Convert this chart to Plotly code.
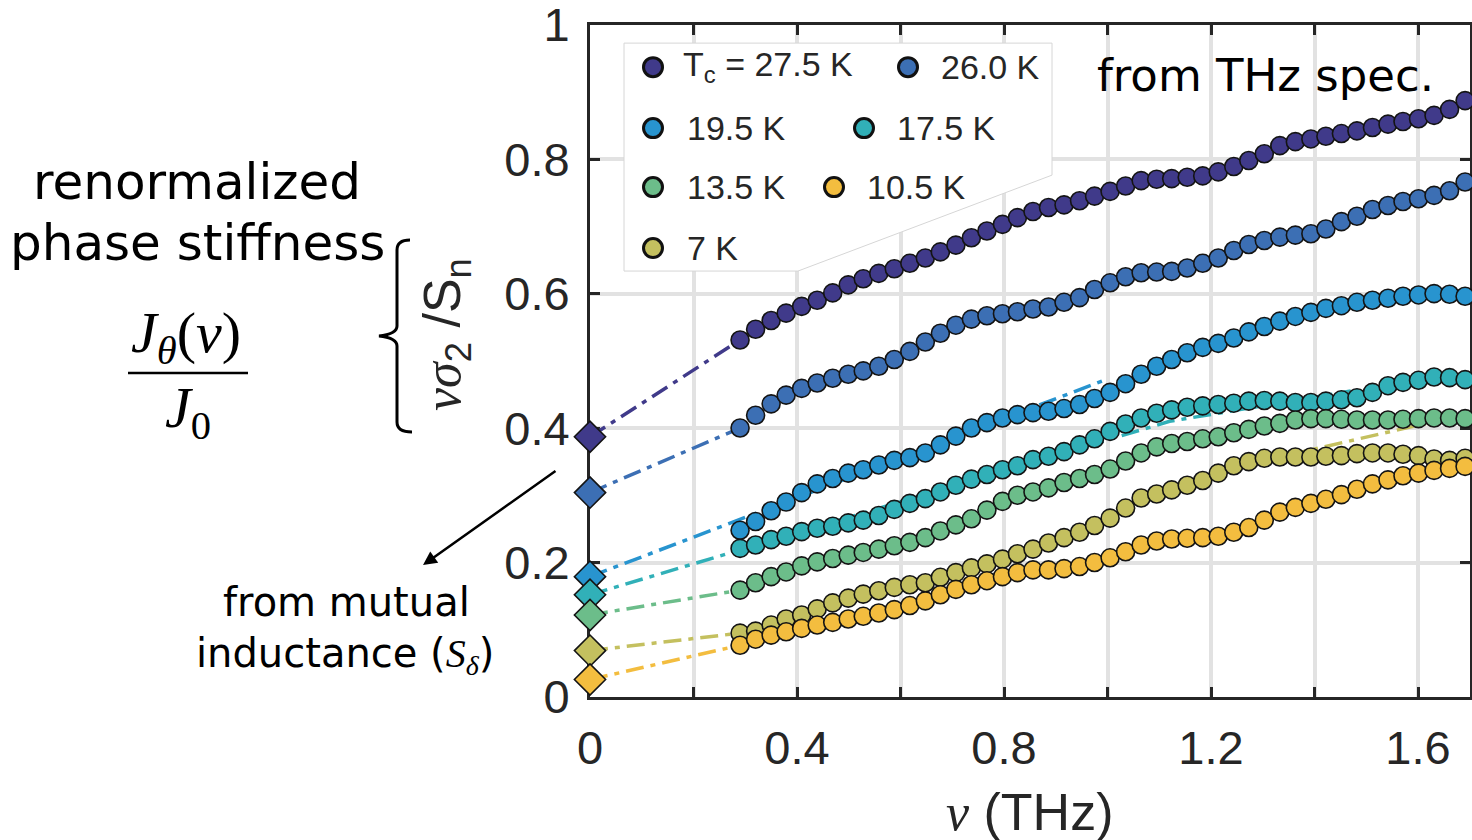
import plotly.graph_objects as go

W, H = 1472, 840

# ---- data -------------------------------------------------------------
freq_thz = [0.290, 0.320, 0.350, 0.379, 0.409, 0.439, 0.469, 0.499, 0.528, 0.558,
            0.588, 0.618, 0.648, 0.677, 0.707, 0.737, 0.767, 0.797, 0.826, 0.856,
            0.886, 0.916, 0.946, 0.975, 1.005, 1.035, 1.065, 1.095, 1.124, 1.154,
            1.184, 1.214, 1.244, 1.273, 1.303, 1.333, 1.363, 1.393, 1.422, 1.452,
            1.482, 1.512, 1.542, 1.571, 1.601, 1.631, 1.661, 1.691]

tc_27_5 = [0.531, 0.547, 0.560, 0.571, 0.581, 0.590, 0.601, 0.613, 0.622, 0.630,
           0.637, 0.645, 0.653, 0.662, 0.672, 0.683, 0.693, 0.703, 0.713, 0.722,
           0.728, 0.732, 0.738, 0.745, 0.752, 0.760, 0.768, 0.770, 0.771, 0.773,
           0.775, 0.781, 0.789, 0.798, 0.808, 0.820, 0.826, 0.830, 0.834, 0.838,
           0.842, 0.847, 0.852, 0.856, 0.860, 0.865, 0.874, 0.887]

tc_26_0 = [0.400, 0.419, 0.436, 0.449, 0.459, 0.467, 0.474, 0.480, 0.485, 0.492,
           0.502, 0.514, 0.528, 0.541, 0.553, 0.562, 0.567, 0.570, 0.573, 0.577,
           0.580, 0.587, 0.594, 0.606, 0.616, 0.625, 0.631, 0.632, 0.633, 0.638,
           0.645, 0.653, 0.664, 0.673, 0.679, 0.684, 0.687, 0.689, 0.696, 0.707,
           0.715, 0.725, 0.731, 0.737, 0.741, 0.746, 0.753, 0.766]

tc_19_5 = [0.248, 0.261, 0.277, 0.290, 0.304, 0.317, 0.325, 0.333, 0.338, 0.345,
           0.352, 0.356, 0.363, 0.375, 0.388, 0.400, 0.408, 0.415, 0.420, 0.423,
           0.425, 0.429, 0.435, 0.444, 0.453, 0.466, 0.480, 0.492, 0.502, 0.512,
           0.520, 0.526, 0.534, 0.543, 0.551, 0.559, 0.566, 0.572, 0.578, 0.582,
           0.587, 0.590, 0.593, 0.596, 0.598, 0.600, 0.599, 0.596]

tc_17_5 = [0.221, 0.226, 0.234, 0.239, 0.246, 0.251, 0.254, 0.259, 0.263, 0.270,
           0.279, 0.288, 0.295, 0.305, 0.315, 0.324, 0.331, 0.338, 0.344, 0.353,
           0.358, 0.365, 0.375, 0.384, 0.395, 0.406, 0.415, 0.422, 0.427, 0.431,
           0.433, 0.435, 0.437, 0.440, 0.441, 0.440, 0.438, 0.438, 0.440, 0.442,
           0.445, 0.453, 0.463, 0.468, 0.471, 0.476, 0.475, 0.472]

tc_13_5 = [0.159, 0.170, 0.179, 0.186, 0.195, 0.201, 0.206, 0.211, 0.215, 0.220,
           0.225, 0.230, 0.237, 0.247, 0.256, 0.265, 0.278, 0.291, 0.300, 0.305,
           0.311, 0.319, 0.325, 0.331, 0.339, 0.351, 0.363, 0.372, 0.377, 0.380,
           0.384, 0.387, 0.393, 0.398, 0.403, 0.407, 0.412, 0.414, 0.414, 0.413,
           0.412, 0.412, 0.412, 0.413, 0.414, 0.415, 0.415, 0.414]

tc_7_0 = [0.095, 0.098, 0.107, 0.116, 0.122, 0.131, 0.140, 0.147, 0.153, 0.158,
          0.163, 0.167, 0.170, 0.178, 0.185, 0.192, 0.198, 0.205, 0.213, 0.220,
          0.229, 0.237, 0.245, 0.255, 0.266, 0.281, 0.296, 0.302, 0.308, 0.315,
          0.322, 0.333, 0.344, 0.350, 0.355, 0.357, 0.357, 0.357, 0.358, 0.359,
          0.362, 0.363, 0.363, 0.361, 0.359, 0.354, 0.352, 0.355]

tc_10_5 = [0.077, 0.086, 0.092, 0.097, 0.102, 0.107, 0.111, 0.116, 0.120, 0.125,
           0.130, 0.136, 0.143, 0.152, 0.160, 0.167, 0.173, 0.179, 0.185, 0.189,
           0.189, 0.191, 0.194, 0.200, 0.207, 0.216, 0.226, 0.232, 0.235, 0.236,
           0.237, 0.239, 0.245, 0.252, 0.263, 0.275, 0.282, 0.288, 0.294, 0.301,
           0.309, 0.317, 0.323, 0.329, 0.333, 0.337, 0.340, 0.343]

# zero-frequency stiffness from mutual inductance, one per sample
mutual_ind = {"27.5": 0.387, "26.0": 0.304, "19.5": 0.179, "17.5": 0.152,
              "13.5": 0.122, "7": 0.069, "10.5": 0.026}

# dash-dot guides from the mutual-inductance point into the THz data
guide_x = {"27.5": [0.0, 0.290], "26.0": [0.0, 0.290], "19.5": [0.0, 1.00],
           "17.5": [0.0, 1.12, 1.47], "13.5": [0.0, 0.290],
           "7": [0.0, 0.290, None, 1.35, 1.69], "10.5": [0.0, 0.290]}
guide_y = {"27.5": [0.387, 0.531], "26.0": [0.304, 0.400], "19.5": [0.179, 0.473],
           "17.5": [0.152, 0.410, 0.455], "13.5": [0.122, 0.159],
           "7": [0.069, 0.095, None, 0.360, 0.420], "10.5": [0.026, 0.077]}

samples = ["27.5", "26.0", "19.5", "17.5", "13.5", "7", "10.5"]
series = {"27.5": tc_27_5, "26.0": tc_26_0, "19.5": tc_19_5, "17.5": tc_17_5,
          "13.5": tc_13_5, "7": tc_7_0, "10.5": tc_10_5}
colors = {"27.5": "#403a8a", "26.0": "#3c6fb4", "19.5": "#2894cf",
          "17.5": "#31b0b8", "13.5": "#6cbd8a", "7": "#c4c05f",
          "10.5": "#f3bd3f"}
legend_labels = {"27.5": "T<sub>c</sub> = 27.5 K", "26.0": "26.0 K",
                 "19.5": "19.5 K", "17.5": "17.5 K", "13.5": "13.5 K",
                 "10.5": "10.5 K", "7": "7 K"}

x_ticks = [0, 0.2, 0.4, 0.6, 0.8, 1.0, 1.2, 1.4, 1.6]
x_ticktext = ["0", "", "0.4", "", "0.8", "", "1.2", "", "1.6"]
y_ticks = [0, 0.2, 0.4, 0.6, 0.8, 1.0]
y_ticktext = ["0", "0.2", "0.4", "0.6", "0.8", "1"]

# ---- page geometry ----------------------------------------------------
PX_L, PX_R = 590.0, 1469.75     # x = 0 and x = 1.7
PY_B, PY_T = 697.0, 24.5        # y = 0 and y = 1
X_MAX, Y_MAX = 1.7, 1.0


def data_x(px):
    return (px - PX_L) / (PX_R - PX_L) * X_MAX


def data_y(py):
    return (PY_B - py) / (PY_B - PY_T) * Y_MAX


def pap_x(px):
    return px / W


def pap_y(py):
    return 1 - py / H


AX = "#262626"
SANS = "Liberation Sans, Arial, sans-serif"
SERIF = "Liberation Serif, Times New Roman, serif"
TEXT = "DejaVu Sans, Verdana, sans-serif"
DASHDOT = "18px,7px,5px,7px"

fig = go.Figure()

for s in samples:
    fig.add_trace(go.Scatter(
        x=guide_x[s], y=guide_y[s], mode="lines", connectgaps=False,
        line=dict(color=colors[s], width=3.5, dash=DASHDOT),
        hoverinfo="skip", showlegend=False, cliponaxis=False))

for s in samples:
    fig.add_trace(go.Scatter(
        x=freq_thz, y=series[s], mode="markers", name=s + " K",
        marker=dict(symbol="circle", size=18, color=colors[s],
                    line=dict(color="#141414", width=1.6)),
        showlegend=False, cliponaxis=False))
    fig.add_trace(go.Scatter(
        x=[0.0], y=[mutual_ind[s]], mode="markers",
        marker=dict(symbol="diamond", size=24, color=colors[s],
                    line=dict(color="#141414", width=1.6)),
        showlegend=False, cliponaxis=False))

# ---- legend box (white panel with clipped lower-right corner) ----------
box = [(624, 43), (1052, 43), (1052, 175), (798, 271), (624, 271)]
path = "M " + " L ".join(f"{data_x(a):.4f},{data_y(b):.4f}" for a, b in box) + " Z"
shapes = [dict(type="path", xref="x", yref="y", path=path, fillcolor="white",
               line=dict(color="#d6d6d6", width=1), layer="between")]

legend_slots = [("27.5", 653, 67, 681), ("26.0", 908, 67, 939),
                ("19.5", 653, 128, 685), ("17.5", 864, 128, 895),
                ("13.5", 653, 187, 685), ("10.5", 834, 187, 865),
                ("7", 653, 248, 685)]

annotations = []
for s, mx, my, tx in legend_slots:
    fig.add_trace(go.Scatter(
        x=[data_x(mx)], y=[data_y(my)], mode="markers",
        marker=dict(symbol="circle", size=19, color=colors[s],
                    line=dict(color="#111111", width=3)),
        hoverinfo="skip", showlegend=False, cliponaxis=False))
    annotations.append(dict(
        x=pap_x(tx), y=pap_y(my), xref="paper", yref="paper",
        xanchor="left", yanchor="middle", showarrow=False,
        text=legend_labels[s], font=dict(family=SANS, size=34, color=AX)))


# ---- text labels -------------------------------------------------------
def label(text, px, py, size, family=TEXT, color="black", **kw):
    d = dict(x=pap_x(px), y=pap_y(py), xref="paper", yref="paper",
             xanchor="center", yanchor="middle", showarrow=False, text=text,
             font=dict(family=family, size=size, color=color))
    d.update(kw)
    annotations.append(d)


label("from THz spec.", 1265, 75, 45)
label("renormalized", 197, 182, 50)
label("phase stiffness", 197, 243, 50)
label("<i>J</i><sub><i>θ</i></sub>(<i>ν</i>)", 186, 336, 58, family=SERIF)
label("<i>J</i><sub>0</sub>", 188, 411, 58, family=SERIF)
label("from mutual", 346, 602, 40)
label("inductance (<span style='font-family:Liberation Serif'><i>S</i>"
      "<sub><i>δ</i></sub></span>)", 345, 655, 40)
label("<span style='font-family:Liberation Serif'><i>νσ</i></span><sub>2</sub> /S<sub>n</sub>",
      446, 335, 52, family=SANS, color=AX, textangle=-90)
label("<span style='font-family:Liberation Serif'><i>ν</i></span> (THz)",
      1030, 812, 52, family=SANS, color=AX)

# fraction bar
shapes.append(dict(type="line", xref="paper", yref="paper",
                   x0=pap_x(128), x1=pap_x(248), y0=pap_y(373), y1=pap_y(373),
                   line=dict(color="black", width=2.5)))

# curly brace grouping the y-axis quantity
brace_pts = "M {a},{b} Q {c},{b} {c},{d} L {c},{e} Q {c},{f} {g},{h} " \
            "Q {c},{i} {c},{j} L {c},{k} Q {c},{l} {m},{l}"
brace = brace_pts.format(
    a=pap_x(410), b=pap_y(240), c=pap_x(397), d=pap_y(250), e=pap_y(326),
    f=pap_y(334), g=pap_x(379), h=pap_y(336), i=pap_y(338), j=pap_y(346),
    k=pap_y(422), l=pap_y(432), m=pap_x(412))
shapes.append(dict(type="path", xref="paper", yref="paper", path=brace,
                   line=dict(color="black", width=3)))

# arrow pointing from the diamonds to the caption
annotations.append(dict(
    x=pap_x(423), y=pap_y(565), xref="paper", yref="paper",
    ax=557 - 423, ay=470 - 565, axref="pixel", ayref="pixel",
    showarrow=True, arrowhead=2, arrowsize=1.1, arrowwidth=2.5,
    arrowcolor="black", text=""))

axis_common = dict(showline=True, linecolor=AX, linewidth=3, mirror="ticks",
                   ticks="inside", ticklen=10, tickwidth=2.5, tickcolor=AX,
                   showgrid=True, gridcolor="#e2e2e2", gridwidth=4,
                   zeroline=False, layer="below traces", automargin=False,
                   ticklabeloverflow="allow",
                   tickfont=dict(family=SANS, size=47, color=AX))

fig.update_layout(
    template="none",
    width=W, height=H, margin=dict(l=0, r=0, t=0, b=0, pad=0),
    paper_bgcolor="white", plot_bgcolor="white", showlegend=False,
    xaxis=dict(range=[0, X_MAX], domain=[PX_L / W, PX_R / W],
               tickmode="array", tickvals=x_ticks, ticktext=x_ticktext,
               ticklabelstandoff=8, **axis_common),
    yaxis=dict(range=[0, Y_MAX * 1.0002], domain=[1 - PY_B / H, 1 - PY_T / H],
               tickmode="array", tickvals=y_ticks, ticktext=y_ticktext,
               ticklabelstandoff=8, **axis_common),
    shapes=shapes, annotations=annotations)

fig.write_html("out.html")
